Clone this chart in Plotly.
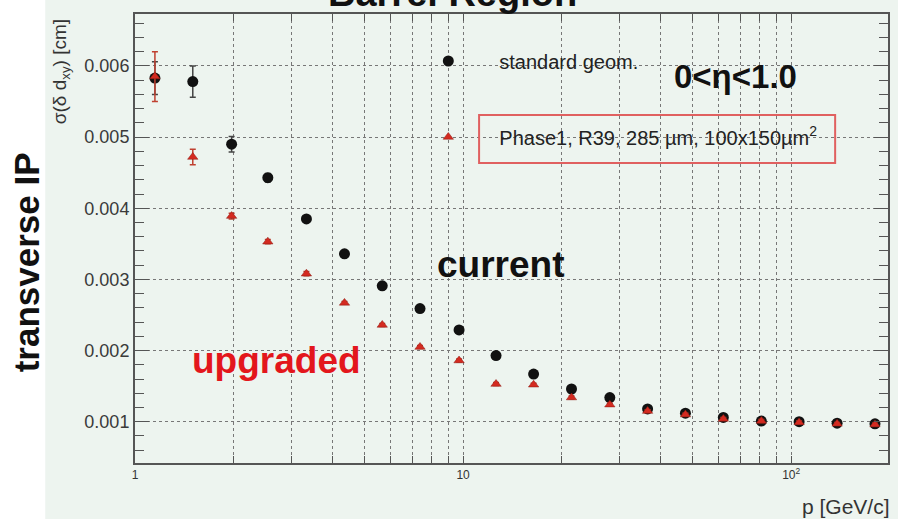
import plotly.graph_objects as go

# ---- data ----
p_gev = [1.15, 1.50, 1.97, 2.54, 3.33, 4.35, 5.67, 7.39, 9.72, 12.6,
         16.4, 21.4, 28.0, 36.5, 47.6, 62.1, 81.1, 105.7, 138, 180]
std_geom = [0.00583, 0.00578, 0.00490, 0.00443, 0.00385, 0.00336, 0.00291, 0.00259,
            0.00229, 0.00193, 0.00167, 0.00146, 0.00134, 0.00118, 0.00112, 0.00106,
            0.00101, 0.00100, 0.00098, 0.00097]
std_err = [0.00023, 0.00022, 0.00011, 0.00006, 0.00004, 0.00003, 0.00003, 0.00003,
           0.00002, 0.00002, 0.00002, 0.00002, 0.00002, 0.00002, 0.00002, 0.00002,
           0.00002, 0.00002, 0.00002, 0.00002]
phase1 = [0.00585, 0.00472, 0.00389, 0.00353, 0.00308, 0.00267, 0.00236, 0.00205,
          0.00186, 0.00153, 0.00152, 0.00134, 0.00124, 0.00115, 0.00110, 0.00104,
          0.00101, 0.00099, 0.00097, 0.00096]
phase1_err = [0.00035, 0.00011, 0.00004, 0.00003, 0.00003, 0.00002, 0.00002, 0.00002,
              0.00002, 0.00002, 0.00002, 0.00002, 0.00002, 0.00002, 0.00002, 0.00002,
              0.00002, 0.00002, 0.00002, 0.00002]

x_tickvals = [1, 2, 3, 4, 5, 6, 7, 8, 9, 10, 20, 30, 40, 50, 60, 70, 80, 90, 100, 200]
x_ticktext = ["1", "", "", "", "", "", "", "", "", "10", "", "", "", "", "", "", "", "", "10<sup>2</sup>", ""]
y_tickvals = [0.001, 0.002, 0.003, 0.004, 0.005, 0.006]
y_ticktext = ["0.001", "0.002", "0.003", "0.004", "0.005", "0.006"]

BG = "#edf4ef"
RED = "#d42a20"
FONT = "Liberation Sans"

fig = go.Figure()
fig.add_trace(go.Scatter(
    x=p_gev, y=std_geom, mode="markers", name="standard geom.",
    marker=dict(symbol="circle", size=11, color="#111111"),
    error_y=dict(type="data", array=std_err, color="#444444", thickness=1.5, width=3),
    legend="legend", showlegend=True,
))
fig.add_trace(go.Scatter(
    x=p_gev, y=phase1, mode="markers",
    name="Phase1, R39, 285 \u00b5m, 100x150\u00b5m<sup>2</sup>",
    marker=dict(symbol="triangle-up", size=9, color=RED, line=dict(color="#8a1a12", width=0.5)),
    error_y=dict(type="data", array=phase1_err, color="#c04030", thickness=1.5, width=3),
    legend="legend2", showlegend=True,
))

L, R, T, B = 135, 8, 14, 56
W, H = 898, 519
pw, ph = W - L - R, H - T - B

def px(x):
    return (x - L) / pw

def py(y):
    return (H - B - y) / ph

fig.update_layout(
    width=W, height=H,
    margin=dict(l=L, r=R, t=T, b=B),
    paper_bgcolor=BG, plot_bgcolor=BG,
    font=dict(family=FONT, color="#333333"),
    showlegend=True,
    legend=dict(x=px(398), y=py(61), xanchor="left", yanchor="middle",
                bgcolor="rgba(0,0,0,0)", font=dict(size=20, color="#222222"),
                itemwidth=92),
    legend2=dict(x=px(398), y=py(137), xanchor="left", yanchor="middle",
                 bgcolor="rgba(0,0,0,0)", font=dict(size=20, color="#222222"),
                 itemwidth=92),
    xaxis=dict(
        type="log", range=[0, 2.295],
        tickvals=x_tickvals, ticktext=x_ticktext,
        tickfont=dict(size=12, color="#333333"),
        ticks="inside", ticklen=7, tickcolor="#555555",
        showline=True, linecolor="#555555", linewidth=2, mirror="ticks",
        showgrid=True, gridcolor="#777777", griddash="dot", gridwidth=1,
        zeroline=False,
    ),
    yaxis=dict(
        range=[0.00042, 0.00673],
        tickvals=y_tickvals, ticktext=y_ticktext,
        tickfont=dict(size=18, color="#3a3a3a"),
        ticks="inside", ticklen=14, tickcolor="#555555",
        minor=dict(dtick=0.0002, tick0=0, ticks="inside", ticklen=9, tickcolor="#555555"),
        showline=True, linecolor="#555555", linewidth=2, mirror="ticks",
        showgrid=True, gridcolor="#777777", griddash="dot", gridwidth=1,
        zeroline=False,
    ),
    shapes=[
        dict(type="rect", xref="paper", yref="paper",
             x0=px(-5), x1=px(45), y0=py(H + 5), y1=py(-5),
             fillcolor="white", line=dict(width=0), layer="below"),
        dict(type="rect", xref="paper", yref="paper",
             x0=px(480), x1=px(837), y0=py(163), y1=py(115),
             fillcolor="rgba(0,0,0,0)", line=dict(color="#e06060", width=2)),
    ],
    annotations=[
        dict(text="<b>Barrel Region</b>", xref="paper", yref="paper",
             x=px(453), y=py(-7), showarrow=False, xanchor="center", yanchor="middle",
             font=dict(size=38, color="#111111")),
        dict(text="<b>transverse IP</b>", xref="paper", yref="paper",
             x=px(26), y=py(262), showarrow=False, xanchor="center", yanchor="middle",
             textangle=-90, font=dict(size=35, color="#111111")),
        dict(text="\u03c3(\u03b4 d<sub>xy</sub>) [cm]", xref="paper", yref="paper",
             x=px(61), y=py(72), showarrow=False, xanchor="center", yanchor="middle",
             textangle=-90, font=dict(size=19, color="#333333")),
        dict(text="<b>0<\u03b7<1.0</b>", xref="paper", yref="paper",
             x=px(737), y=py(77), showarrow=False, xanchor="center", yanchor="middle",
             font=dict(size=33, color="#111111")),
        dict(text="<b>current</b>", xref="paper", yref="paper",
             x=px(501), y=py(264), showarrow=False, xanchor="center", yanchor="middle",
             font=dict(size=37, color="#111111")),
        dict(text="<b>upgraded</b>", xref="paper", yref="paper",
             x=px(277), y=py(360), showarrow=False, xanchor="center", yanchor="middle",
             font=dict(size=37, color="#e3161c")),
        dict(text="p [GeV/c]", xref="paper", yref="paper",
             x=px(894), y=py(506), showarrow=False, xanchor="right", yanchor="middle",
             font=dict(size=21, color="#333333")),
    ],
)

fig.write_html("out.html")
